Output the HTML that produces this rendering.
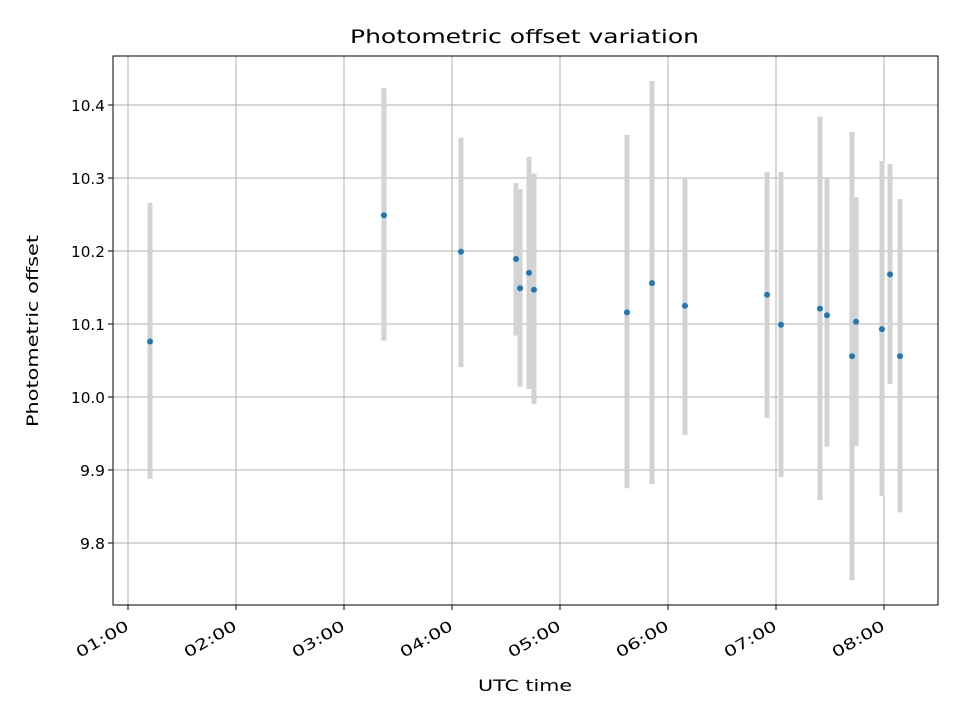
<!DOCTYPE html>
<html><head><meta charset="utf-8"><style>
body{margin:0;background:#fff}
text{font-family:"DejaVu Sans","Liberation Sans",sans-serif}
</style></head><body>
<svg id="chart" width="960" height="720" xmlns="http://www.w3.org/2000/svg">
<rect width="960" height="720" fill="#fff"/>
<g id="grid"></g><g id="bars"></g><g id="pts"></g><g id="axes"></g>
<text x="350" y="43" style="font-size:19px" textLength="349" lengthAdjust="spacingAndGlyphs">Photometric offset variation</text>
<text x="478" y="691" style="font-size:16px" textLength="94" lengthAdjust="spacingAndGlyphs">UTC time</text>
<text transform="translate(38,427) rotate(-90)" style="font-size:16px" textLength="192" lengthAdjust="spacingAndGlyphs">Photometric offset</text>
</svg>
<script>
const times=[1.204,3.370,4.083,4.593,4.630,4.713,4.759,5.620,5.852,6.157,6.917,7.046,7.407,7.472,7.704,7.741,7.981,8.056,8.148];
const offsets=[10.076,10.249,10.199,10.189,10.149,10.170,10.147,10.116,10.156,10.125,10.140,10.099,10.121,10.112,10.056,10.103,10.093,10.168,10.056];
const upper=[10.266,10.423,10.355,10.293,10.285,10.329,10.306,10.359,10.433,10.300,10.308,10.308,10.384,10.299,10.363,10.274,10.323,10.319,10.271];
const lower=[9.888,10.077,10.041,10.084,10.014,10.011,9.990,9.875,9.881,9.948,9.971,9.890,9.859,9.932,9.749,9.933,9.864,10.018,9.842];
const xTicks=[1,2,3,4,5,6,7,8];
const xTickLabels=["01:00","02:00","03:00","04:00","05:00","06:00","07:00","08:00"];
const yTicks=[9.8,9.9,10.0,10.1,10.2,10.3,10.4];
const yTickLabels=["9.8","9.9","10.0","10.1","10.2","10.3","10.4"];
const L=113,R=938,T=56,B=605;
const xs=h=>128+(h-1)*108;
const ys=v=>397-(v-10.0)*730;
const NS="http://www.w3.org/2000/svg";
function mk(tag,attrs,parent,txt){const e=document.createElementNS(NS,tag);for(const k in attrs)e.setAttribute(k,attrs[k]);if(txt!==undefined)e.textContent=txt;document.getElementById(parent).appendChild(e);return e;}
xTicks.forEach((t,i)=>{const x=xs(t);
 let g=mk('line',{x1:x,x2:x,y1:T,y2:B,stroke:'#b0b0b0','stroke-width':1},'grid');
 
 
 let tk=mk('line',{x1:x,x2:x,y1:B,y2:B+5,stroke:'#000'},'axes');
 
 
 const ax=x+2,ay=B+24;
 let lb=mk('text',{x:ax,y:ay,style:'font-size:15px','text-anchor':'end',textLength:58,lengthAdjust:'spacingAndGlyphs',transform:`rotate(-30 ${ax} ${ay})`},'axes',xTickLabels[i]);
 
 
});
yTicks.forEach((t,i)=>{const y=ys(t);
 let g=mk('line',{x1:L,x2:R,y1:y,y2:y,stroke:'#b0b0b0','stroke-width':1},'grid');
 
 
 let tk=mk('line',{x1:L-5,x2:L,y1:y,y2:y,stroke:'#000'},'axes');
 
 
 const w=yTickLabels[i].length===4?34:25;
 let lb=mk('text',{x:L-8,y:y+6,style:'font-size:15px','text-anchor':'end',textLength:w,lengthAdjust:'spacingAndGlyphs'},'axes',yTickLabels[i]);
 
 
});
times.forEach((t,i)=>{const x=xs(t);
 let b=mk('line',{x1:x,x2:x,y1:ys(upper[i]),y2:ys(lower[i]),stroke:'#d3d3d3','stroke-width':5},'bars');
 
 
 let p=mk('circle',{cx:x,cy:ys(offsets[i]),r:3,fill:'#1f77b4'},'pts');
 
 
});
let fr=mk('rect',{x:L,y:T,width:R-L,height:B-T,fill:'none',stroke:'#000','stroke-width':1},'axes');


</script>
</body></html>
